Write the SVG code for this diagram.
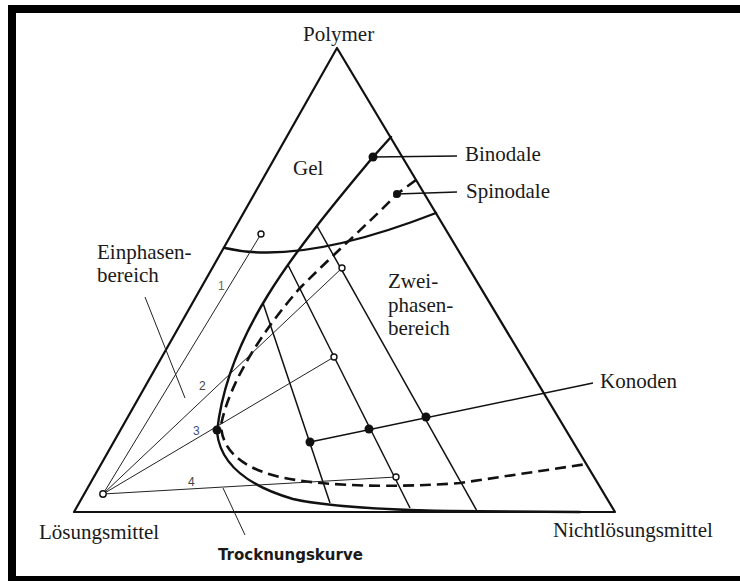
<svg xmlns="http://www.w3.org/2000/svg" width="740" height="581" viewBox="0 0 740 581">
<style>
.lbl{font-family:"Liberation Serif","Times New Roman",serif;font-size:21px;fill:#1a1a1a}
.num{font-family:"Liberation Sans",Arial,sans-serif;font-size:12px;fill:#444}
.edge{fill:none;stroke:#111;stroke-width:2.2;stroke-linejoin:round}
.bin{fill:none;stroke:#111;stroke-width:2.4;stroke-linecap:round;stroke-linejoin:round}
.spin{fill:none;stroke:#111;stroke-width:2.6;stroke-dasharray:11 6}
.tie{fill:none;stroke:#111;stroke-width:1.5}
.dry{fill:none;stroke:#222;stroke-width:1}
.lead{fill:none;stroke:#111;stroke-width:1.3}
.dot{fill:#111}
.ring{fill:#fff;stroke:#111;stroke-width:1.4}
</style>
<rect x="0" y="0" width="740" height="581" fill="#fff"/>
<g id="frame">
<rect x="8" y="5" width="732" height="8" fill="#000"/>
<rect x="8" y="5" width="8" height="576" fill="#000"/>
<rect x="8" y="576" width="732" height="5" fill="#000"/>
</g>
<g id="triangle">
<path class="edge" d="M337,48 L74,512 L615,512 Z"/>
</g>
<g id="gel-boundary">
<path class="bin" d="M225,248 Q300,266 436,213"/>
</g>
<g id="binodale-curve">
<path class="bin" d="M391,137 L373,157 C350,185 300,243 268,295 C240,340 222,385 217,432 C220,462 245,485 293,499 C330,507 390,510 450,511 L580,512"/>
</g>
<g id="spinodale-curve">
<path class="spin" d="M416,180 L397,194 C370,222 340,248 300,288 C265,328 230,380 221,425 C222,455 250,472 290,479 C330,486 393,488 460,483 L587,464"/>
</g>
<g id="connectors">
<line class="tie" x1="263" y1="303" x2="330" y2="503"/>
<line class="tie" x1="288" y1="265" x2="410" y2="508"/>
<line class="tie" x1="317" y1="226" x2="477" y2="511"/>
<line class="tie" x1="310" y1="442" x2="593" y2="383"/>
<line class="dry" x1="103" y1="494" x2="261" y2="234"/>
<line class="dry" x1="103" y1="494" x2="342" y2="268"/>
<line class="dry" x1="103" y1="494" x2="334" y2="357"/>
<line class="dry" x1="103" y1="494" x2="396" y2="477"/>
<line class="lead" x1="373" y1="157" x2="457" y2="156"/>
<line class="lead" x1="397" y1="194" x2="457" y2="192"/>
<line class="dry" x1="145" y1="297" x2="185" y2="398"/>
<line class="dry" x1="223" y1="488" x2="245" y2="535"/>
</g>
<g id="points">
<circle class="dot" cx="373" cy="157" r="4.5"/>
<circle class="dot" cx="397" cy="194" r="4"/>
<circle class="dot" cx="217" cy="430" r="4.5"/>
<circle class="dot" cx="310" cy="442" r="4.5"/>
<circle class="dot" cx="369" cy="429" r="4.5"/>
<circle class="dot" cx="426" cy="417" r="4.5"/>
<circle class="ring" cx="261" cy="234" r="3"/>
<circle class="ring" cx="342" cy="268" r="3"/>
<circle class="ring" cx="334" cy="357" r="3"/>
<circle class="ring" cx="396" cy="477" r="3"/>
<circle class="ring" cx="103" cy="494" r="3.2"/>
</g>
<g id="labels">
<text class="lbl" x="303" y="41">Polymer</text>
<text class="lbl" x="293" y="175">Gel</text>
<text class="lbl" x="465" y="161">Binodale</text>
<text class="lbl" x="466" y="198">Spinodale</text>
<text class="lbl" x="97" y="259">Einphasen-</text>
<text class="lbl" x="97" y="282">bereich</text>
<text class="lbl" x="388" y="288">Zwei-</text>
<text class="lbl" x="388" y="312">phasen-</text>
<text class="lbl" x="388" y="335">bereich</text>
<text class="lbl" x="600" y="388">Konoden</text>
<text class="lbl" x="39" y="539">Lösungsmittel</text>
<text class="lbl" x="553" y="537">Nichtlösungsmittel</text>
<text x="218" y="560" font-family="'DejaVu Sans',Verdana,sans-serif" font-size="15" font-weight="bold" fill="#1a1a1a">Trocknungskurve</text>
<text class="num" x="218" y="290" fill="#6b6b3f" style="fill:#6b6b3f">1</text>
<text class="num" x="199" y="390">2</text>
<text class="num" x="193" y="435" style="fill:#3f4f7f">3</text>
<text class="num" x="188" y="486">4</text>
</g>
</svg>
